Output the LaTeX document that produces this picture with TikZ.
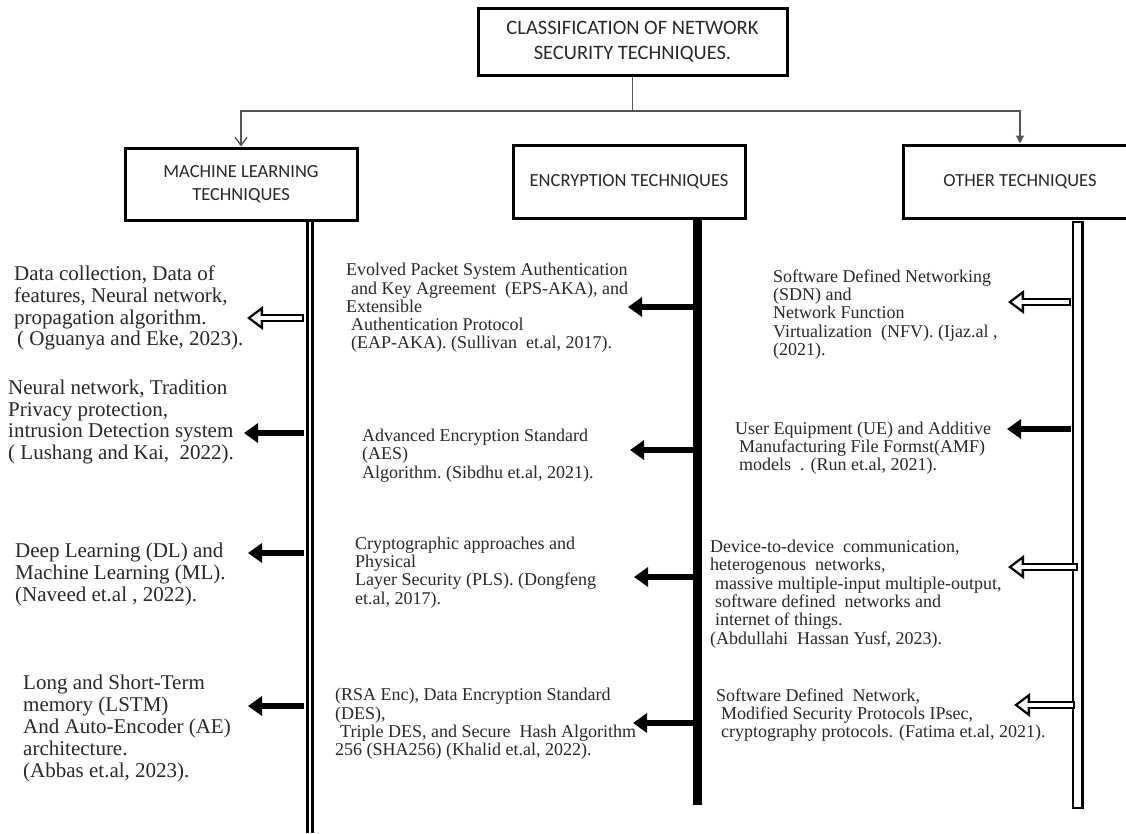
\documentclass[tikz,border=0pt]{standalone}
\usepackage{fontspec}
\setmainfont{Liberation Serif}
\newfontfamily\hdfont{Carlito}
\usetikzlibrary{positioning,arrows.meta}
\definecolor{inkgray}{RGB}{40,40,40}
\definecolor{linegray}{RGB}{85,85,85}

\begin{document}
\begin{tikzpicture}[x=1pt, y=-1pt,
  every node/.style={inner sep=0pt},
  hdbox/.style={draw=black, line width=3pt, minimum width=232pt, minimum height=72pt, align=center, text=inkgray, font=\hdfont\fontsize{18.5}{23}\selectfont},
  bigtxt/.style={anchor=west, align=left, text=inkgray, font=\fontsize{21}{21.8}\selectfont},
  smalltxt/.style={anchor=west, align=left, text=inkgray, font=\fontsize{18}{18.3}\selectfont},
  topline/.style={draw=linegray, line width=1.4pt},
  solidarr/.style={line width=6.5pt, -{Triangle[length=14pt,width=19pt]}},
  hollowarr/.style={line width=8pt, -{Triangle[length=16pt,width=23pt]},
    postaction={draw=white, line width=3.5pt, shorten >=3.9pt, shorten <=2.2pt, -{Triangle[length=9.8pt,width=14pt]}}}
]
  \useasboundingbox (0,0) rectangle (1126,833);
  \fill[white] (0,0) rectangle (1126,833);
  \clip (0,0) rectangle (1126,833);

  % header boxes
  \node[hdbox, minimum width=309pt, minimum height=67pt, font=\hdfont\fontsize{20.5}{25}\selectfont] (cls) at (632.5,41.5)
       {CLASSIFICATION OF NETWORK\\SECURITY TECHNIQUES.};
  \node[hdbox] (ml) at (241,184) {MACHINE LEARNING\\TECHNIQUES};
  \node[hdbox, minimum height=73pt] (enc) at (629,181.5) {ENCRYPTION TECHNIQUES};
  \node[hdbox, minimum width=234pt, minimum height=73pt] (oth) at (1020,181.5) {OTHER TECHNIQUES};

  \coordinate (split) at (632.5,111);
  \draw[topline] (cls.south) -- (split);
  \draw[topline, -{Straight Barb[length=8pt,width=12pt]}] (split) -| (ml.north);
  \draw[topline, -{Triangle[length=8pt,width=8pt]}] (split) -| (oth.north);

  % columns
  \coordinate (mlend) at (310,833);
  \coordinate (encend) at (697.5,805);
  \coordinate (othtop) at (1077.7,222);
  \coordinate (othend) at (1077.7,808);
  \draw[line width=3pt, double, double distance=2.5pt] (ml.south -| mlend) -- (mlend);
  \draw[line width=9pt] (enc.south -| encend) -- (encend);
  \draw[line width=2.4pt] ([xshift=-4.6pt]othtop) rectangle ([xshift=4.6pt]othend);

  % machine learning entries
  \node[bigtxt] (l1) at (14,308) {Data collection, Data of\\features, Neural network,\\propagation algorithm.\\\hspace{3pt}( Oguanya and Eke, 2023).};
  \node[bigtxt] (l2) at (8,422) {Neural network, Tradition\\Privacy protection,\\intrusion Detection system\\( Lushang and Kai,\ \ 2022).};
  \node[bigtxt] (l3) at (15,574.5) {Deep Learning (DL) and\\Machine Learning (ML).\\(Naveed et.al , 2022).};
  \node[bigtxt] (l4) at (23,728.5) {Long and Short-Term\\memory (LSTM)\\And Auto-Encoder (AE)\\architecture.\\(Abbas et.al, 2023).};

  % encryption entries
  \node[smalltxt] (m1) at (346,308) {Evolved Packet System Authentication\\\hspace{5pt}and Key Agreement\ \ (EPS-AKA), and\\Extensible\\\hspace{5pt}Authentication Protocol\\\hspace{5pt}(EAP-AKA). (Sullivan\ \ et.al, 2017).};
  \node[smalltxt] (m2) at (362,455.5) {Advanced Encryption Standard\\(AES)\\Algorithm.\ (Sibdhu et.al, 2021).};
  \node[smalltxt] (m3) at (355,572.5) {Cryptographic approaches and\\Physical\\Layer Security (PLS).\ (Dongfeng\\et.al, 2017).};
  \node[smalltxt] (m4) at (335,724) {(RSA Enc), Data Encryption Standard\\(DES),\\\hspace{5pt}Triple DES, and Secure\ \ Hash Algorithm\\256 (SHA256) (Khalid et.al, 2022).};

  % other entries
  \node[smalltxt] (r1) at (773,314.5) {Software Defined Networking\\(SDN) and\\Network Function\\Virtualization\ \ (NFV). (Ijaz.al ,\\(2021).};
  \node[smalltxt] (r2) at (735,448) {User Equipment (UE) and Additive\\\hspace{4pt}Manufacturing File Formst(AMF)\\\hspace{4pt}models\ \ . (Run et.al, 2021).};
  \node[smalltxt] (r3) at (710,594) {Device-to-device\ \ communication,\\heterogenous\ \ networks,\\\hspace{5pt}massive multiple-input multiple-output,\\\hspace{5pt}software defined\ \ networks and\\\hspace{5pt}internet of things.\\(Abdullahi\ \ Hassan Yusf, 2023).};
  \node[smalltxt] (r4) at (716,715) {Software Defined\ \ Network,\\\hspace{5pt}Modified Security Protocols IPsec,\\\hspace{5pt}cryptography protocols. (Fatima et.al, 2021).};

  % arrows out of the columns
  \coordinate (mlx) at (304,0);
  \coordinate (encx) at (694,0);
  \coordinate (othx) at (1071,0);
  \coordinate (t1) at (247,318);
  \coordinate (t2) at (244,433);
  \coordinate (t3) at (248,553);
  \coordinate (t4) at (248,706);
  \coordinate (t5) at (628,307);
  \coordinate (t6) at (630,450);
  \coordinate (t7) at (634,577);
  \coordinate (t8) at (633,723);
  \coordinate (t9) at (1008,302);
  \coordinate (t10) at (1007,429);
  \coordinate (t11) at (1008,567);
  \coordinate (t12) at (1014,705);

  \draw[hollowarr] (t1 -| mlx) -- (t1);
  \draw[solidarr] (t2 -| mlx) -- (t2);
  \draw[solidarr] (t3 -| mlx) -- (t3);
  \draw[solidarr] (t4 -| mlx) -- (t4);
  \draw[solidarr] (t5 -| encx) -- (t5);
  \draw[solidarr] (t6 -| encx) -- (t6);
  \draw[solidarr] (t7 -| encx) -- (t7);
  \draw[solidarr] (t8 -| encx) -- (t8);
  \draw[hollowarr] (t9 -| othx) -- (t9);
  \draw[solidarr] (t10 -| othx) -- (t10);
  \draw[hollowarr] ([xshift=7pt]t11 -| othx) -- (t11);
  \draw[hollowarr] ([xshift=4pt]t12 -| othx) -- (t12);
\end{tikzpicture}
\end{document}
